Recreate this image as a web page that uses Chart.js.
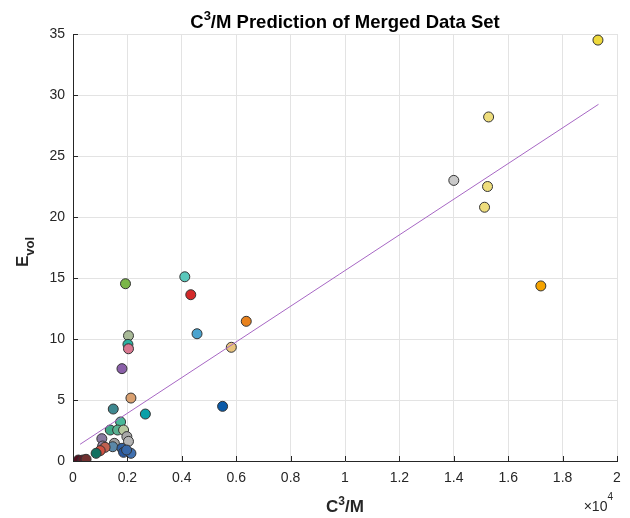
<!DOCTYPE html>
<html lang="en">
<head>
    <meta charset="UTF-8">
    <title>C3/M Prediction of Merged Data Set</title>
    <script src="https://cdn.jsdelivr.net/npm/chart.js"></script>
    <style>
        body { margin: 0; background: #fff; }
        #wrap { width: 630px; height: 518px; }
    </style>
</head>
<body>
    <div id="wrap"><canvas id="c3mChart" width="630" height="518"></canvas></div>

    <script>
        // measured C^3/M values and E_vol for each sample
        const c3m = [19300, 15280, 14000, 15240, 15130, 17200, 6370, 5820, 4560, 4110,
                     4330, 5500, 1930, 2040, 2020, 2040, 1800, 2130, 1480, 2660,
                     1750, 1370, 1640, 1860, 1980, 2040, 1060, 1520, 1460, 1090,
                     1180, 1000, 850, 1800, 1860, 2130, 1970, 200, 360, 480];
        const evol = [34.5, 28.2, 23.0, 22.5, 20.8, 14.35, 11.45, 9.32, 10.43, 15.1,
                      13.63, 4.48, 14.53, 10.27, 9.56, 9.2, 7.57, 5.16, 4.26, 3.85,
                      3.2, 2.54, 2.54, 2.54, 2.0, 1.61, 1.83, 1.45, 1.17, 1.23,
                      1.12, 0.85, 0.63, 1.04, 0.71, 0.63, 0.9, 0.08, 0.08, 0.14];
        const pointColors = ['#eed93c', '#eedd7c', '#c9c9c9', '#eedd7c', '#eedd7c', '#f5a300', '#e8821e', '#e8c27c', '#4aa3cf', '#5ac8bb',
                             '#d42a2a', '#0a5aa8', '#7ab648', '#a9ba98', '#2ab0a0', '#d87890', '#8a5fa8', '#d9a070', '#3e8890', '#0aa0a8',
                             '#48b898', '#40a888', '#58b090', '#b8c8a0', '#a8a8a8', '#b4b4b4', '#8878a0', '#a0a0a0', '#5a88a8', '#9080a0',
                             '#c06050', '#d05040', '#107060', '#3060a0', '#2858a0', '#4070b0', '#3868a8', '#501020', '#601828', '#703030'];

        // least squares fit line end points
        const fitX = [260, 19320];
        const fitSlope = 0.001462;
        const fitIntercept = 0.99;

        const xTicks = [0, 2000, 4000, 6000, 8000, 10000, 12000, 14000, 16000, 18000, 20000];
        const yTicks = [0, 5, 10, 15, 20, 25, 30, 35];

        const FONT = '"Liberation Sans", Arial, Helvetica, sans-serif';
        const INK = '#262626';

        // draws "C" + superscript "3" + rest, centred on cx
        function supText(ctx, cx, y, rest, big, small, rise) {
            ctx.font = big; const wC = ctx.measureText('C').width, wR = ctx.measureText(rest).width;
            ctx.font = small; const w3 = ctx.measureText('3').width;
            let x = cx - (wC + w3 + wR) / 2;
            ctx.font = big; ctx.fillText('C', x, y); x += wC;
            ctx.font = small; ctx.fillText('3', x, y - rise); x += w3;
            ctx.font = big; ctx.fillText(rest, x, y);
        }

        // titles with super/subscripts drawn by hand, plus inward tick marks
        const labelsPlugin = {
            id: 'matlabLabels',
            afterDraw(chart) {
                const ctx = chart.ctx;
                const area = chart.chartArea;
                const cx = (area.left + area.right) / 2;
                ctx.save();

                // inward ticks like matlab
                ctx.strokeStyle = INK;
                ctx.lineWidth = 1;
                ctx.beginPath();
                chart.scales.x.ticks.forEach(t => {
                    const px = Math.round(chart.scales.x.getPixelForValue(t.value)) + 0.5;
                    ctx.moveTo(px, area.bottom); ctx.lineTo(px, area.bottom - 5);
                });
                chart.scales.y.ticks.forEach(t => {
                    const py = Math.round(chart.scales.y.getPixelForValue(t.value)) + 0.5;
                    ctx.moveTo(area.left, py); ctx.lineTo(area.left + 5, py);
                });
                ctx.stroke();

                ctx.textBaseline = 'alphabetic';
                ctx.fillStyle = '#000';
                supText(ctx, cx, 28, '/M Prediction of Merged Data Set',
                        'bold 18.5px ' + FONT, 'bold 13px ' + FONT, 8);

                ctx.fillStyle = INK;
                supText(ctx, cx, 512, '/M', 'bold 17px ' + FONT, 'bold 12px ' + FONT, 7);

                // y axis title E_vol
                ctx.translate(28, 252);
                ctx.rotate(-Math.PI / 2);
                const eFont = 'bold 17px ' + FONT, vFont = 'bold 13px ' + FONT;
                ctx.font = eFont; const wE = ctx.measureText('E').width;
                ctx.font = vFont; const wv = ctx.measureText('vol').width;
                const x0 = -(wE + wv) / 2;
                ctx.font = eFont; ctx.fillText('E', x0, 0);
                ctx.font = vFont; ctx.fillText('vol', x0 + wE, 6);
                ctx.setTransform(1, 0, 0, 1, 0, 0);

                // exponent note
                ctx.textAlign = 'right';
                ctx.font = '10px ' + FONT;
                const wExp = ctx.measureText('4').width;
                ctx.fillText('4', 613, 500);
                ctx.font = '14px ' + FONT;
                ctx.fillText('\u00d710', 613 - wExp, 511);
                ctx.restore();
            }
        };

        new Chart(document.getElementById('c3mChart'), {
            type: 'scatter',
            data: {
                datasets: [{
                    type: 'line',
                    data: fitX.map(v => ({ x: v, y: fitIntercept + fitSlope * v })),
                    borderColor: '#a767c4',
                    borderWidth: 1,
                    pointRadius: 0,
                    order: 0
                }, {
                    data: c3m.map((v, i) => ({ x: v, y: evol[i] })),
                    backgroundColor: pointColors,
                    borderColor: '#333',
                    borderWidth: 1,
                    pointRadius: 5,
                    order: 1
                }]
            },
            options: {
                responsive: false,
                animation: false,
                layout: { padding: { top: 34, right: 13, left: 0, bottom: 0 } },
                plugins: { legend: { display: false }, tooltip: { enabled: false } },
                scales: {
                    x: {
                        type: 'linear', min: 0, max: 20000,
                        afterBuildTicks: s => { s.ticks = xTicks.map(v => ({ value: v })); },
                        afterFit: s => { s.height = 57; },
                        ticks: {
                            callback: v => String(+(v / 10000).toFixed(1)),
                            color: INK, font: { family: FONT, size: 14 }, padding: 9, maxRotation: 0
                        },
                        grid: { color: '#e3e3e3', drawTicks: false },
                        border: { color: INK }
                    },
                    y: {
                        min: 0, max: 35,
                        afterBuildTicks: s => { s.ticks = yTicks.map(v => ({ value: v })); },
                        afterFit: s => { s.width = 73; },
                        ticks: { color: INK, font: { family: FONT, size: 14 }, padding: 8 },
                        grid: { color: '#e3e3e3', drawTicks: false },
                        border: { color: INK }
                    }
                }
            },
            plugins: [labelsPlugin]
        });
    </script>
</body>
</html>
